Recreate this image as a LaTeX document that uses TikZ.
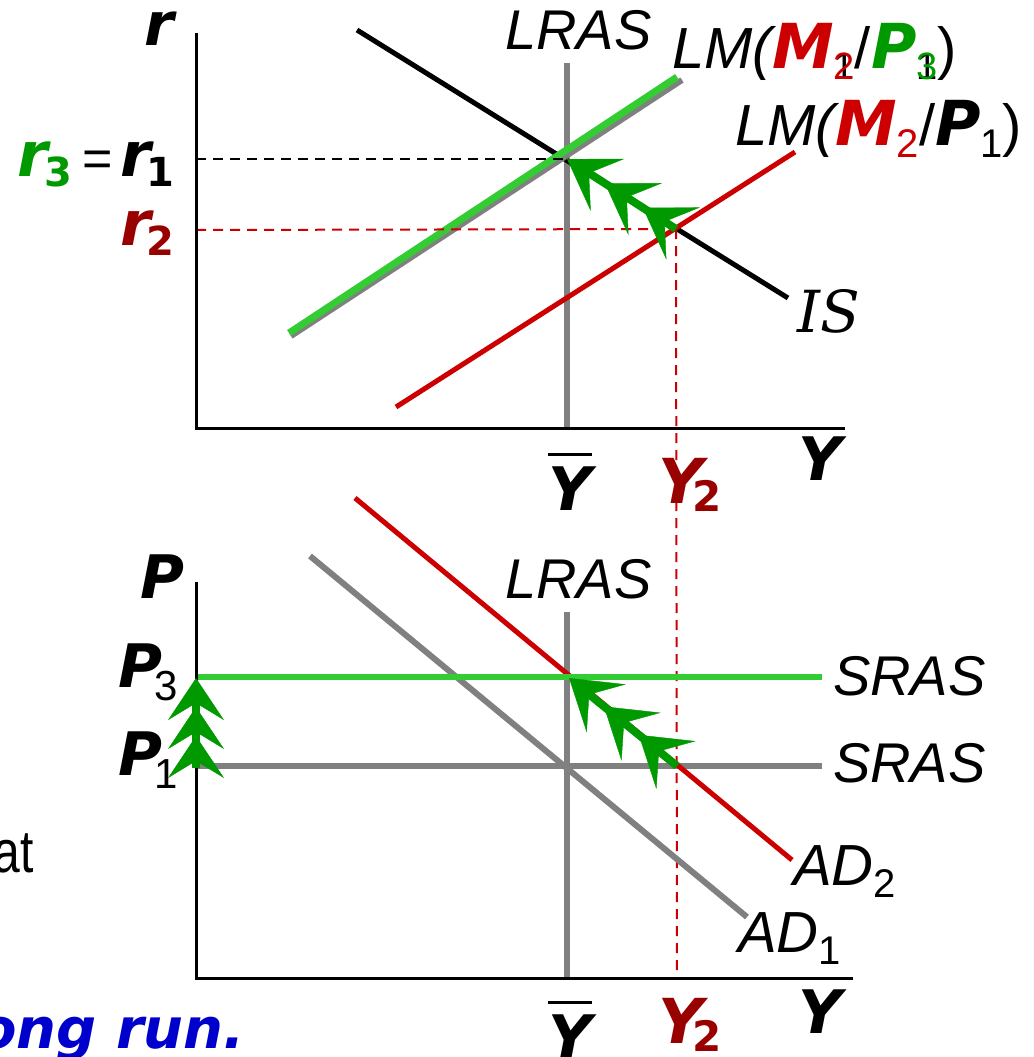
\documentclass[tikz,border=0pt]{standalone}
\usepackage{fontspec}
\setmainfont{Liberation Sans}
\newfontfamily\vbfam{DejaVu Sans}
\newfontfamily\serfam{DejaVu Serif}
\usetikzlibrary{arrows.meta,decorations.markings}
\definecolor{lgreen}{RGB}{51,204,51}
\definecolor{agreen}{RGB}{0,153,0}
\definecolor{dred}{RGB}{153,0,0}
\definecolor{lred}{RGB}{204,0,0}
\definecolor{mgray}{RGB}{128,128,128}
\definecolor{tblue}{RGB}{0,0,204}
\newcommand\fsz[1]{\fontsize{#1}{#1}\selectfont}
\newcommand\varb[1]{{\vbfam\bfseries\itshape #1}}
\newcommand\subov[4]{\raisebox{-12pt}{\fsz{38}\rlap{\color{#1}#2}\color{#3}#4}}
\newcommand\ybarsym{\vbox{\hrule height 3pt\kern 10pt\hbox{\varb{Y}}}}
\tikzset{
  lbl/.style={inner sep=0pt, font=\fsz{56}\itshape},
  var/.style={inner sep=0pt, font=\fsz{60}\vbfam\bfseries\itshape},
  axis/.style={line width=3pt, black},
  grayline/.style={line width=6pt, mgray},
  redline/.style={line width=5pt, lred},
  greenline/.style={line width=7pt, lgreen},
  dashline/.style={line width=2pt, dash pattern=on 10pt off 7pt},
  shaft/.style={line width=8pt, agreen, shorten >=25pt},
  dtip/.style={},
  tridiag/.style={decorate, decoration={markings,
    mark=at position -0.1pt with {\arrow[agreen]{Stealth[length=48pt,width=62pt,inset=22pt]}},
    mark=at position -45pt with {\arrow[agreen]{Stealth[length=48pt,width=62pt,inset=22pt]}},
    mark=at position -90pt with {\arrow[agreen]{Stealth[length=48pt,width=62pt,inset=22pt]}}}},
  trivert/.style={decorate, decoration={markings,
    mark=at position -0.1pt with {\arrow[agreen]{Stealth[length=42pt,width=56pt,inset=17pt]}},
    mark=at position -29pt with {\arrow[agreen]{Stealth[length=42pt,width=56pt,inset=17pt]}},
    mark=at position -58pt with {\arrow[agreen]{Stealth[length=42pt,width=56pt,inset=17pt]}}}}
}
\begin{document}
\begin{tikzpicture}[x=1pt,y=-1pt]
\useasboundingbox (0,0) rectangle (1033,1057);
% ---------- top panel ----------
\coordinate (rtop) at (196,33);
\coordinate (o1) at (196,428);
\coordinate (yend1) at (845,428);
\coordinate (lr1t) at (567,63);
\coordinate (lr1b) at (567,428);
\coordinate (ist) at (357,30);
\coordinate (isb) at (788,298);
\coordinate (lmg1) at (289,333);
\coordinate (lmg2) at (677,77);
\coordinate (lmo1) at (291,336);
\coordinate (lmo2) at (682,80);
\coordinate (lmr1) at (396,407);
\coordinate (lmr2) at (795,152);
\coordinate (e1) at (567,159);
\coordinate (e2) at (676,229);
\coordinate (r1a) at (196,159);
\coordinate (r2a) at (196,230);
\coordinate (y2b) at (677,978);

\draw[grayline] (lr1t) -- (lr1b);
\draw[line width=5pt, black] (ist) -- (isb);
\draw[grayline] (lmo1) -- (lmo2);
\draw[greenline] (lmg1) -- (lmg2);
\draw[redline] (lmr1) -- (lmr2);
\draw[dashline, black] (r1a) -- (e1);
\draw[dashline, lred] (r2a) -- (e2);
\draw[dashline, lred] (e2) -- (y2b);
\draw[axis] (rtop) -- (o1) -- (yend1);
\draw[shaft] (e2) -- (e1);
\path[tridiag] (e2) -- (e1);

\node[var, anchor=base east] (rlab) at (174,46) {r};
\node[lbl, anchor=base west] (lras1) at (505,50) {LRAS};
\node[inner sep=0pt, anchor=base west] (lm3) at (672,68)
  {{\fsz{58}\itshape LM(}{\color{lred}\varb{\fsz{62}M}}\subov{black}{1}{lred}{2}{\fsz{58}/}{\color{agreen}\varb{\fsz{62}P}}\subov{black}{1}{agreen}{3}{\fsz{58})}};
\node[inner sep=0pt, anchor=base west] (lm1) at (735,145)
  {{\fsz{58}\itshape LM(}{\color{lred}\varb{\fsz{62}M}}{\color{lred}\raisebox{-12pt}{\fsz{40}2}}{\fsz{58}/}\varb{\fsz{62}P}\raisebox{-12pt}{\fsz{40}1}{\fsz{58})}};
\node[inner sep=0pt, anchor=base west, font=\fsz{58}\serfam\itshape] (islab) at (797,332) {IS};
\node[inner sep=0pt, anchor=base east] (r31) at (175,176)
  {{\color{agreen}\varb{\fsz{62}r}\kern-4pt\raisebox{-10pt}{\varb{\fsz{40}\upshape 3}}}\hspace{10pt}{\fsz{52}=}\hspace{8pt}\varb{\fsz{62}r}\kern-4pt\raisebox{-10pt}{\varb{\fsz{40}\upshape 1}}};
\node[inner sep=0pt, anchor=base east, dred] (r2lab) at (175,245)
  {\varb{\fsz{62}r}\kern-4pt\raisebox{-10pt}{\varb{\fsz{40}\upshape 2}}};
\node[var, anchor=base] (yb1) at (570,510) {\ybarsym};
\node[inner sep=0pt, anchor=base west, dred] (y21) at (658,503)
  {\varb{\fsz{62}Y}\kern-11pt\raisebox{-8pt}{\varb{\fsz{42}\upshape 2}}};
\node[var, anchor=base west] (ylab1) at (798,480) {Y};

% ---------- bottom panel ----------
\coordinate (ptop) at (196,582);
\coordinate (o2) at (196,978);
\coordinate (yend2) at (853,978);
\coordinate (lr2t) at (567,612);
\coordinate (lr2b) at (567,978);
\coordinate (s3a) at (198,677);
\coordinate (s3b) at (822,677);
\coordinate (s1a) at (198,766);
\coordinate (s1b) at (822,766);
\coordinate (ad2a) at (355,498);
\coordinate (ad2b) at (792,860);
\coordinate (ad1a) at (310,556);
\coordinate (ad1b) at (747,917);
\coordinate (f1) at (569,678);
\coordinate (f2) at (677,766);
\coordinate (p1) at (196,768);
\coordinate (p3) at (196,678);

\draw[grayline] (lr2t) -- (lr2b);
\draw[grayline] (s1a) -- (s1b);
\draw[grayline] (ad1a) -- (ad1b);
\draw[redline] (ad2a) -- (ad2b);
\draw[greenline, line width=6pt] (s3a) -- (s3b);
\draw[axis] (ptop) -- (o2) -- (yend2);
\draw[shaft] (f2) -- (f1);
\path[tridiag] (f2) -- (f1);
\draw[shaft, shorten >=20pt] (p1) -- (p3);
\path[trivert] (p1) -- (p3);

\node[var, anchor=base east] (plab) at (185,598) {P};
\node[inner sep=0pt, anchor=base east] (p3lab) at (178,687)
  {\varb{\fsz{60}P}\kern-8pt\raisebox{-13pt}{\fsz{42}3}};
\node[inner sep=0pt, anchor=base east] (p1lab) at (178,775)
  {\varb{\fsz{60}P}\kern-8pt\raisebox{-13pt}{\fsz{42}1}};
\node[lbl, anchor=base west] (lras2) at (505,598) {LRAS};
\node[lbl, anchor=base west] (sras3) at (833,695) {SRAS};
\node[lbl, anchor=base west] (sras1) at (833,782) {SRAS};
\node[inner sep=0pt, anchor=base west] (ad2lab) at (793,885)
  {{\fsz{58}\itshape AD}\raisebox{-12pt}{\fsz{40}2}};
\node[inner sep=0pt, anchor=base west] (ad1lab) at (738,952)
  {{\fsz{58}\itshape AD}\raisebox{-12pt}{\fsz{40}1}};
\node[var, anchor=base] (yb2) at (570,1058) {\ybarsym};
\node[inner sep=0pt, anchor=base west, dred] (y22) at (658,1043)
  {\varb{\fsz{62}Y}\kern-11pt\raisebox{-8pt}{\varb{\fsz{42}\upshape 2}}};
\node[var, anchor=base west] (ylab2) at (798,1033) {Y};

% ---------- cut-off text ----------
\node[inner sep=0pt, anchor=base east, font=\fsz{60}] (at) at (34,872) {\scalebox{0.8}[1]{at}};
\node[inner sep=0pt, anchor=base east, tblue] (lr) at (245,1048) {\varb{\fsz{56}ong run.}};
\end{tikzpicture}
\end{document}
